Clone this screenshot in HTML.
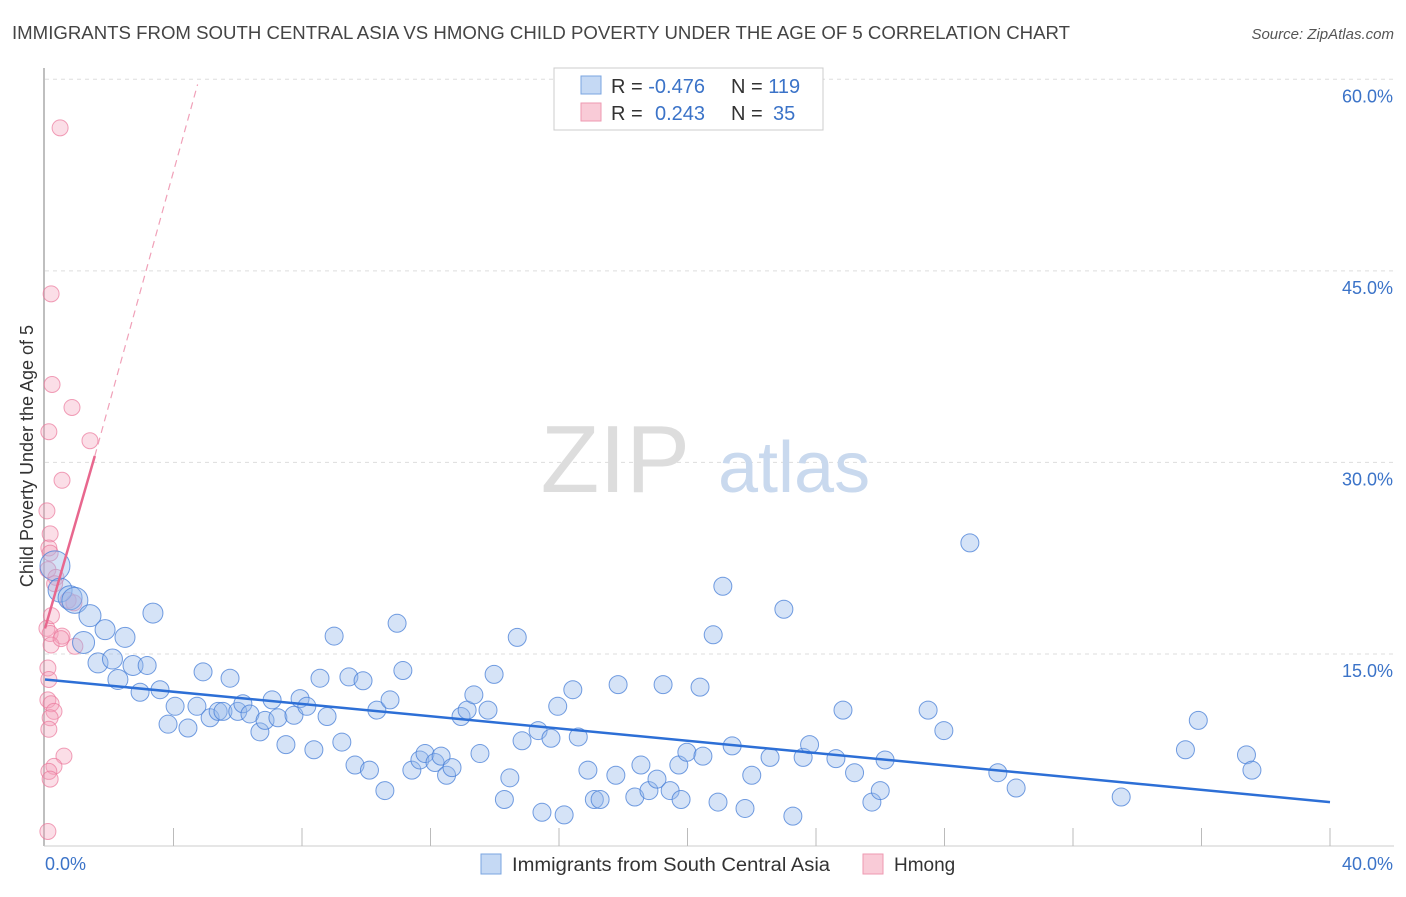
<!DOCTYPE html>
<html><head><meta charset="utf-8"><style>
body{margin:0;background:#fff;font-family:"Liberation Sans",sans-serif;}
svg text{font-family:"Liberation Sans",sans-serif;}
</style></head><body>
<svg id="chart" width="1406" height="892" xmlns="http://www.w3.org/2000/svg">
<text x="12" y="39" font-size="18" fill="#444" textLength="1058" lengthAdjust="spacingAndGlyphs">IMMIGRANTS FROM SOUTH CENTRAL ASIA VS HMONG CHILD POVERTY UNDER THE AGE OF 5 CORRELATION CHART</text>
<text x="1394" y="39" font-size="15" fill="#555" text-anchor="end" font-style="italic">Source: ZipAtlas.com</text>
<g id="grid"></g>
<text x="690" y="492" font-size="96" fill="#ddd" text-anchor="end" font-family="Liberation Serif">ZIP</text>
<text x="718" y="492" font-size="72" fill="#c9d9ee">atlas</text>
<line x1="44" y1="68" x2="44" y2="846" stroke="#aaa" stroke-width="1.5"/>
<line x1="44" y1="846" x2="1394" y2="846" stroke="#ccc" stroke-width="1"/>
<g id="xticks"></g>
<g id="yticks"></g>
<text x="45" y="870" font-size="18" fill="#3b73c8">0.0%</text>
<text x="1393" y="870" font-size="18" fill="#3b73c8" text-anchor="end">40.0%</text>
<text transform="translate(33,456) rotate(-90)" font-size="18" fill="#333" text-anchor="middle">Child Poverty Under the Age of 5</text>
<g id="pink"></g>
<g id="blue"></g>
<g id="lines"></g>
<g>
<rect x="554" y="68" width="269" height="62" fill="#fff" stroke="#ccc"/>
<rect x="581" y="76" width="20" height="18" fill="#c5d9f4" stroke="#7aa5e0"/>
<rect x="581" y="103" width="20" height="18" fill="#f9cbd7" stroke="#ee9ab2"/>
<text x="611" y="93" font-size="20" fill="#333">R = <tspan fill="#3b73c8">-0.476</tspan><tspan x="731">N = </tspan><tspan fill="#3b73c8">119</tspan></text>
<text x="611" y="120" font-size="20" fill="#333">R = <tspan x="655" fill="#3b73c8">0.243</tspan><tspan x="731">N = </tspan><tspan x="773" fill="#3b73c8">35</tspan></text>
</g>
<g>
<rect x="481" y="854" width="20" height="20" fill="#c5d9f4" stroke="#7aa5e0"/>
<text x="512" y="871" font-size="19" fill="#333" textLength="318" lengthAdjust="spacingAndGlyphs">Immigrants from South Central Asia</text>
<rect x="863" y="854" width="20" height="20" fill="#f9cbd7" stroke="#ee9ab2"/>
<text x="894" y="871" font-size="19" fill="#333">Hmong</text>
</g>
</svg>
<script>
const yTicks=[15,30,45,60];
const yTickLabels=["15.0%","30.0%","45.0%","60.0%"];
const xTicks=[4,8,12,16,20,24,28,32,36,40];
const blueX=[0.31,0.47,0.78,0.93,1.4,1.2,1.87,2.49,3.36,1.65,2.1,2.74,3.18,2.27,2.96,3.58,3.83,4.05,4.45,4.73,4.92,5.14,5.39,5.54,5.76,6.0,6.16,6.38,6.69,6.85,7.07,7.25,7.5,7.75,7.94,8.15,8.37,8.56,8.78,9.0,9.24,9.46,9.65,9.9,10.1,10.33,10.58,10.74,10.96,11.14,11.42,11.67,11.83,12.14,12.33,12.5,12.67,12.95,13.14,13.35,13.54,13.79,13.98,14.3,14.47,14.7,14.85,15.35,15.47,15.75,15.96,16.16,16.43,16.6,16.9,17.1,17.28,17.77,17.84,18.36,18.55,18.8,19.05,19.24,19.46,19.73,19.8,19.98,20.39,20.48,20.8,20.95,21.1,21.39,21.79,22.0,22.57,23.0,23.28,23.6,23.8,24.62,24.84,25.2,25.74,26.0,26.15,27.49,27.98,28.79,29.66,30.23,33.5,35.5,35.9,37.4,37.57];
const blueY=[21.9,20.0,19.4,19.2,18.0,15.9,16.9,16.3,18.2,14.3,14.6,14.1,14.1,13.0,12.0,12.2,9.5,10.9,9.2,10.9,13.6,10.0,10.5,10.5,13.1,10.5,11.1,10.3,8.9,9.8,11.4,10.0,7.9,10.2,11.5,10.9,7.5,13.1,10.1,16.4,8.1,13.2,6.3,12.9,5.9,10.6,4.3,11.4,17.4,13.7,5.9,6.7,7.2,6.5,7.0,5.5,6.1,10.1,10.6,11.8,7.2,10.6,13.4,3.6,5.3,16.3,8.2,9.0,2.6,8.4,10.9,2.4,12.2,8.5,5.9,3.6,3.6,5.5,12.6,3.8,6.3,4.3,5.2,12.6,4.3,6.3,3.6,7.3,12.4,7.0,16.5,3.4,20.3,7.8,2.9,5.5,6.9,18.5,2.3,6.9,7.9,6.8,10.6,5.7,3.4,4.3,6.7,10.6,9.0,23.7,5.7,4.5,3.8,7.5,9.8,7.1,5.9];
const blueR=[15,12,12,13,11,11,10,10,10,10,10,10,9,10,9,9,9,9,9,9,9,9,9,9,9,9,9,9,9,9,9,9,9,9,9,9,9,9,9,9,9,9,9,9,9,9,9,9,9,9,9,9,9,9,9,9,9,9,9,9,9,9,9,9,9,9,9,9,9,9,9,9,9,9,9,9,9,9,9,9,9,9,9,9,9,9,9,9,9,9,9,9,9,9,9,9,9,9,9,9,9,9,9,9,9,9,9,9,9,9,9,9,9,9,9,9,9];
const pinkX=[0.47,0.19,0.22,0.84,0.12,1.4,0.53,0.06,0.16,0.12,0.16,0.09,0.34,0.72,0.06,0.16,0.53,0.19,0.93,0.09,0.12,0.09,0.19,0.28,0.16,0.12,0.59,0.28,0.12,0.16,0.09,0.9,0.3,0.2,0.5];
const pinkY=[56.2,43.2,36.1,34.3,32.4,31.7,28.6,26.2,24.4,23.3,22.9,21.6,21.0,19.2,17.0,16.6,16.4,15.7,15.6,13.9,13.0,11.4,11.1,10.5,10.0,9.1,7.0,6.2,5.8,5.2,1.1,19.0,20.5,18.0,16.2];
const blueTrend=[0,13.0,40,3.4];
const pinkTrend=[0,17.0,1.55,30.5,4.75,59.6];
const X=v=>45+v*32.125, Y=v=>845.5-v*12.77;
const NS="http://www.w3.org/2000/svg";
function mk(tag,attrs,parent){const e=document.createElementNS(NS,tag);for(const k in attrs)e.setAttribute(k,attrs[k]);document.getElementById(parent).appendChild(e);return e;}
yTicks.forEach((t,i)=>{
 const l=mk('line',{x1:45,x2:1394,y1:Y(t),y2:Y(t),stroke:'#ddd','stroke-dasharray':'4,4'},'grid');
 
 
 const tx=mk('text',{x:1393,y:Y(t)+23,'font-size':18,fill:'#3b73c8','text-anchor':'end'},'yticks');
 tx.textContent=yTickLabels[i];
 
 
});
xTicks.forEach(t=>{
 const l=mk('line',{x1:X(t),x2:X(t),y1:828,y2:846,stroke:'#bbb'},'xticks');
 
 
});
pinkX.forEach((v,i)=>{
 const c=mk('circle',{cx:X(v),cy:Y(pinkY[i]),r:8,fill:'rgba(244,160,185,0.35)',stroke:'rgba(235,120,155,0.7)','stroke-width':1},'pink');
 
 
});
blueX.forEach((v,i)=>{
 const c=mk('circle',{cx:X(v),cy:Y(blueY[i]),r:blueR[i],fill:'rgba(150,185,235,0.4)',stroke:'rgba(70,125,215,0.75)','stroke-width':1},'blue');
 
 
});
const bl=mk('line',{x1:X(blueTrend[0]),y1:Y(blueTrend[1]),x2:X(blueTrend[2]),y2:Y(blueTrend[3]),stroke:'#2d6fd6','stroke-width':2.5},'lines');


const pl=mk('line',{x1:X(pinkTrend[0]),y1:Y(pinkTrend[1]),x2:X(pinkTrend[2]),y2:Y(pinkTrend[3]),stroke:'#e8678e','stroke-width':2.5},'lines');


const pd=mk('line',{x1:X(pinkTrend[2]),y1:Y(pinkTrend[3]),x2:X(pinkTrend[4]),y2:Y(pinkTrend[5]),stroke:'#f0a0b8','stroke-width':1.2,'stroke-dasharray':'7,5'},'lines');


</script>
</body></html>
